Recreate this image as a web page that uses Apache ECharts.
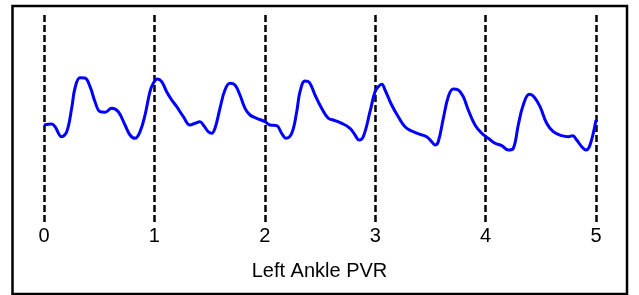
<!DOCTYPE html>
<html>
<head>
<meta charset="utf-8">
<script src="https://cdn.jsdelivr.net/npm/echarts@6/dist/echarts.min.js"></script>
<style>
  html, body { margin: 0; padding: 0; background: #fff; }
  #chart { width: 639px; height: 295px; }
</style>
</head>
<body>
<div id="chart"></div>
<script>
// waveform: time (s) and pulse amplitude (arbitrary units)
var times = [
  0, 0.070, 0.100, 0.160, 0.206, 0.251, 0.281, 0.326, 0.371, 0.417,
  0.462, 0.507, 0.553, 0.613, 0.673, 0.734, 0.779, 0.824, 0.870, 0.915,
  0.960, 0.990, 1.026, 1.066, 1.111, 1.157, 1.202, 1.262, 1.322, 1.368,
  1.413, 1.443, 1.488, 1.519, 1.549, 1.594, 1.639, 1.685, 1.730, 1.775,
  1.821, 1.866, 1.927, 2.002, 2.047, 2.108, 2.153, 2.192, 2.244, 2.289,
  2.319, 2.364, 2.403, 2.455, 2.515, 2.575, 2.621, 2.697, 2.772, 2.817,
  2.853, 2.892, 2.953, 2.998, 3.028, 3.059, 3.089, 3.149, 3.209, 3.270,
  3.331, 3.406, 3.466, 3.512, 3.542, 3.571, 3.617, 3.662, 3.707, 3.753,
  3.798, 3.843, 3.904, 3.965, 4.024, 4.085, 4.146, 4.206, 4.251, 4.296,
  4.341, 4.396, 4.438, 4.493, 4.553, 4.613, 4.689, 4.749, 4.789, 4.825,
  4.871, 4.909, 4.946, 5.000
];
var amplitude = [
  97, 98, 95.3, 85.3, 90.3, 114, 134, 144.3, 144, 135.3,
  120.3, 110.3, 109.7, 113.7, 110.3, 97, 87, 83.7, 90.3, 107,
  130.3, 138.7, 143, 140.3, 130.3, 122, 115.3, 105.3, 97, 98.7,
  100.3, 97, 90.3, 88.7, 93.7, 113.7, 132, 138.7, 137, 127,
  113.7, 107, 103.7, 100.3, 97, 96.3, 88.7, 83.7, 88.7, 110.3,
  130.3, 141, 139.7, 127, 113.7, 103.7, 102, 98.7, 93.7, 87,
  82, 85.3, 110.3, 130.3, 135.3, 137.7, 132, 117, 105.3, 95.3,
  91, 87.7, 85.3, 80.3, 77, 80.3, 103.7, 125.3, 133, 132,
  125.3, 112, 97, 88.7, 83.7, 78.7, 76.3, 72, 73.7, 97,
  117, 127.7, 125.3, 115.3, 98.7, 90.3, 86.3, 85.3, 86.3, 82,
  75.3, 72, 77, 102
];
var timeTicks = [0, 1, 2, 3, 4, 5];
var chartTitle = 'Left Ankle PVR';

var points = [];
for (var i = 0; i < times.length; i++) {
  points.push([times[i], amplitude[i]]);
}

var chart = echarts.init(document.getElementById('chart'));
chart.setOption({
  animation: false,
  backgroundColor: '#fff',
  grid: { left: 44, right: 43, top: 15, bottom: 73 },
  xAxis: {
    type: 'value',
    min: timeTicks[0],
    max: timeTicks[timeTicks.length - 1],
    interval: 1,
    axisLine: { show: false },
    axisTick: { show: false },
    axisLabel: {
      color: '#000',
      fontFamily: 'Liberation Sans, Arial, sans-serif',
      fontSize: 20,
      margin: 4
    },
    splitLine: {
      show: true,
      lineStyle: { color: '#000', width: 2.5, type: [7, 3] }
    }
  },
  yAxis: {
    type: 'value',
    min: 0,
    max: 207,
    show: false
  },
  title: {
    text: chartTitle,
    left: 'center',
    top: 256,
    textStyle: {
      color: '#000',
      fontFamily: 'Liberation Sans, Arial, sans-serif',
      fontSize: 20,
      fontWeight: 'normal'
    }
  },
  graphic: [{
    type: 'rect',
    shape: { x: 12.5, y: 6, width: 614.5, height: 288 },
    style: { fill: 'none', stroke: '#000', lineWidth: 2.5 },
    silent: true
  }],
  series: [{
    type: 'line',
    data: points,
    smooth: 0.4,
    showSymbol: false,
    lineStyle: { color: '#0000ff', width: 3 }
  }]
});
</script>
</body>
</html>
